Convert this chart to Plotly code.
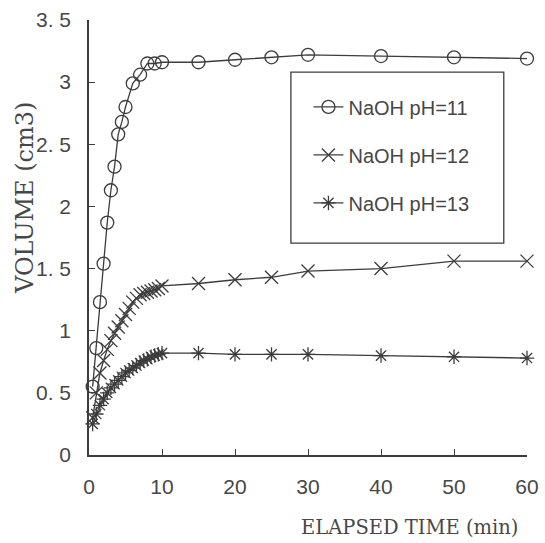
import plotly.graph_objects as go

# ---- data ----
t_ph11 = [0.5, 1, 1.5, 2, 2.5, 3, 3.5, 4, 4.5, 5, 6, 7, 8, 9, 10,
          15, 20, 25, 30, 40, 50, 60]
v_ph11 = [0.55, 0.86, 1.23, 1.54, 1.87, 2.13, 2.32, 2.58, 2.68, 2.80, 2.99, 3.06, 3.15, 3.15, 3.16,
          3.16, 3.18, 3.20, 3.22, 3.21, 3.20, 3.19]

t_ph12 = [0.5, 1, 1.5, 2, 2.5, 3, 3.5, 4, 4.5, 5, 5.5, 6, 6.5, 7, 7.5, 8, 8.5, 9, 9.5, 10,
          15, 20, 25, 30, 40, 50, 60]
v_ph12 = [0.30, 0.50, 0.66, 0.76, 0.85, 0.92, 0.98, 1.03, 1.08, 1.13, 1.18, 1.23, 1.26, 1.29,
          1.30, 1.31, 1.32, 1.33, 1.34, 1.36,
          1.38, 1.41, 1.43, 1.48, 1.50, 1.56, 1.56]

t_ph13 = [0.5, 1, 1.5, 2, 2.5, 3, 3.5, 4, 4.5, 5, 5.5, 6, 6.5, 7, 7.5, 8, 8.5, 9, 9.5, 10,
          15, 20, 25, 30, 40, 50, 60]
v_ph13 = [0.25, 0.33, 0.40, 0.45, 0.50, 0.54, 0.57, 0.60, 0.63, 0.66, 0.68, 0.70, 0.72, 0.74,
          0.76, 0.77, 0.79, 0.80, 0.81, 0.82,
          0.82, 0.81, 0.81, 0.81, 0.80, 0.79, 0.78]

series_names = ["NaOH pH=11", "NaOH pH=12", "NaOH pH=13"]

x_tickvals = [0, 10, 20, 30, 40, 50, 60]
x_ticktext = ["0", "10", "20", "30", "40", "50", "60"]
y_tickvals = [0, 0.5, 1, 1.5, 2, 2.5, 3, 3.5]
y_ticktext = ["0", "0. 5", "1", "1. 5", "2", "2. 5", "3", "3. 5"]

x_title = "ELAPSED TIME (min)"
y_title = "VOLUME (cm3)"

# ---- styling ----
INK = "#3c3c3c"
TEXT_INK = "#474747"
SANS = "Liberation Sans"
SERIF = "DejaVu Serif"

fig = go.Figure()

specs = [
    (t_ph11, v_ph11, series_names[0], "circle-open", 13),
    (t_ph12, v_ph12, series_names[1], "x-thin-open", 13),
    (t_ph13, v_ph13, series_names[2], "asterisk-open", 12),
]
for i, (tx, vy, name, sym, sz) in enumerate(specs):
    fig.add_trace(go.Scatter(
        x=tx, y=vy, name=name, mode="lines+markers",
        legendgroup=f"g{i}",
        line=dict(color=INK, width=1.3),
        marker=dict(symbol=sym, size=sz, color=INK, line=dict(color=INK, width=1.3)),
        cliponaxis=False,
    ))

axis_common = dict(
    showline=True, linecolor=INK, linewidth=1.5,
    showgrid=False, zeroline=False, mirror=False,
    ticks="inside", ticklen=6, tickwidth=1.2, tickcolor=INK,
    tickfont=dict(family=SANS, size=21, color=TEXT_INK),
    automargin=False,
)

fig.update_xaxes(range=[0, 60], tickmode="array", tickvals=x_tickvals, ticktext=x_ticktext,
                 ticklabelstandoff=12, **axis_common)
fig.update_yaxes(range=[0, 3.5], tickmode="array", tickvals=y_tickvals, ticktext=y_ticktext,
                 ticklabelstandoff=12, **axis_common)

# legend box
fig.add_shape(type="rect", xref="paper", yref="paper",
              x0=0.461, x1=0.947, y0=0.487, y1=0.880,
              line=dict(color=INK, width=1.3), fillcolor="rgba(0,0,0,0)")

fig.add_annotation(text=x_title, xref="paper", yref="paper", x=0.984, y=-0.166,
                   xanchor="right", yanchor="middle", showarrow=False,
                   font=dict(family=SERIF, size=19.5, color=TEXT_INK))
fig.add_annotation(text=y_title, xref="paper", yref="paper", x=-0.146, y=0.591,
                   xanchor="center", yanchor="middle", textangle=-90, showarrow=False,
                   font=dict(family=SERIF, size=24, color=TEXT_INK))

fig.update_layout(
    width=545, height=543,
    margin=dict(l=89, r=18, t=20, b=88),
    paper_bgcolor="white", plot_bgcolor="white",
    showlegend=True,
    legend=dict(x=0.501, y=0.845, xanchor="left", yanchor="top",
                bgcolor="rgba(0,0,0,0)", borderwidth=0,
                font=dict(family=SANS, size=20, color=TEXT_INK),
                itemwidth=30, tracegroupgap=19, traceorder="grouped"),
)

fig.write_html("out.html", config={"displayModeBar": False},
               post_script="document.body.style.margin='0';")
